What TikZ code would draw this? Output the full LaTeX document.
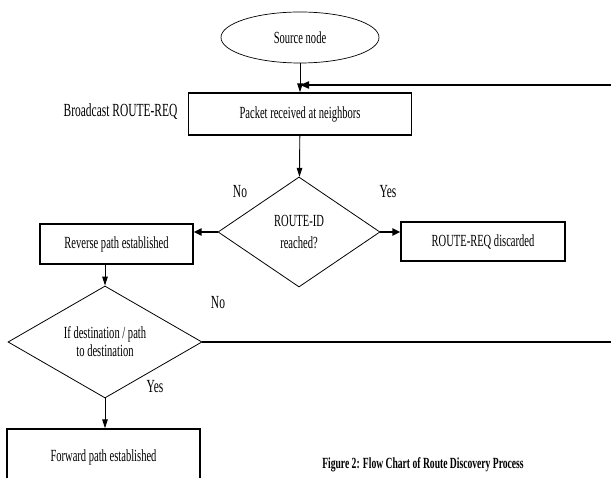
\documentclass[tikz,border=0pt]{standalone}
\usepackage{fontspec}
\setmainfont{Liberation Serif}[FakeStretch=0.62]
\usetikzlibrary{shapes.geometric,arrows.meta}

\tikzset{
 txt/.style={font=\fontsize{17}{20}\selectfont,align=center},
 startnode/.style={txt,draw,shape=ellipse,line width=0.7pt,inner sep=0pt,minimum width=158,minimum height=51},
 procbox/.style={txt,draw,shape=rectangle,line width=1.3pt,inner sep=0pt},
 decision/.style={txt,draw,shape=diamond,line width=0.8pt,inner sep=0pt},
 lbl/.style={font=\fontsize{18.5}{22}\selectfont,inner sep=0pt},
 arr/.style={-{Triangle[length=9pt,width=5.5pt]},line width=0.9pt},
 bigarr/.style={-{Triangle[length=8pt,width=7pt]},line width=2.2pt},
 looparr/.style={-{Triangle[length=9pt,width=7pt]},line width=2pt}
}

\begin{document}
\begin{tikzpicture}[x=1pt,y=-1pt]
\clip (0,0) rectangle (611,478);
%Nodes
\path
 (300,37.5) node[startnode] (src) {Source node}
 (300,114) node[procbox,minimum width=223,minimum height=42] (pkt) {Packet received at neighbors}
 (299,232) node[decision,minimum width=162,minimum height=110,aspect=1.47] (rid) {ROUTE-ID\\[2pt] reached?}
 (116.5,244) node[procbox,minimum width=153,minimum height=40] (rev) {Reverse path established}
 (483,241.5) node[procbox,minimum width=164,minimum height=39] (disc) {ROUTE-REQ discarded}
 (105,342) node[decision,minimum width=194,minimum height=112,aspect=1.73] (dst) {If destination / path\\[-2pt] to destination}
 (103.5,457) node[procbox,minimum width=193,minimum height=56] (fwd) {Forward path established}
 ;
\coordinate (join) at (300,85);
\coordinate (fb) at (625,342);

%Edges
\draw[arr] (src) -- (pkt);
\draw[arr] (pkt) -- (rid);
\draw[bigarr] (rid.west) -- (rid.west -| rev.east);
\draw[bigarr] (rid.east) -- (rid.east -| disc.west);
\draw[arr] (dst.north |- rev.south) -- (dst.north);
\draw[arr] (dst.south) -- (dst.south |- fwd.north);
\draw[looparr] (dst.east) -- (fb) |- (join);

% Labels
\node[lbl] (bcast) at (120.5,112) {Broadcast ROUTE-REQ};
\node[lbl] (no1) at (240,192) {No};
\node[lbl] (yes1) at (388,192) {Yes};
\node[lbl] (no2) at (218,303) {No};
\node[lbl] (yes2) at (155,387) {Yes};
\node[font=\fontsize{15.5}{18}\selectfont\bfseries,inner sep=0pt] (cap) at (423,465) {Figure 2: Flow Chart of Route Discovery Process};
\end{tikzpicture}
\end{document}
